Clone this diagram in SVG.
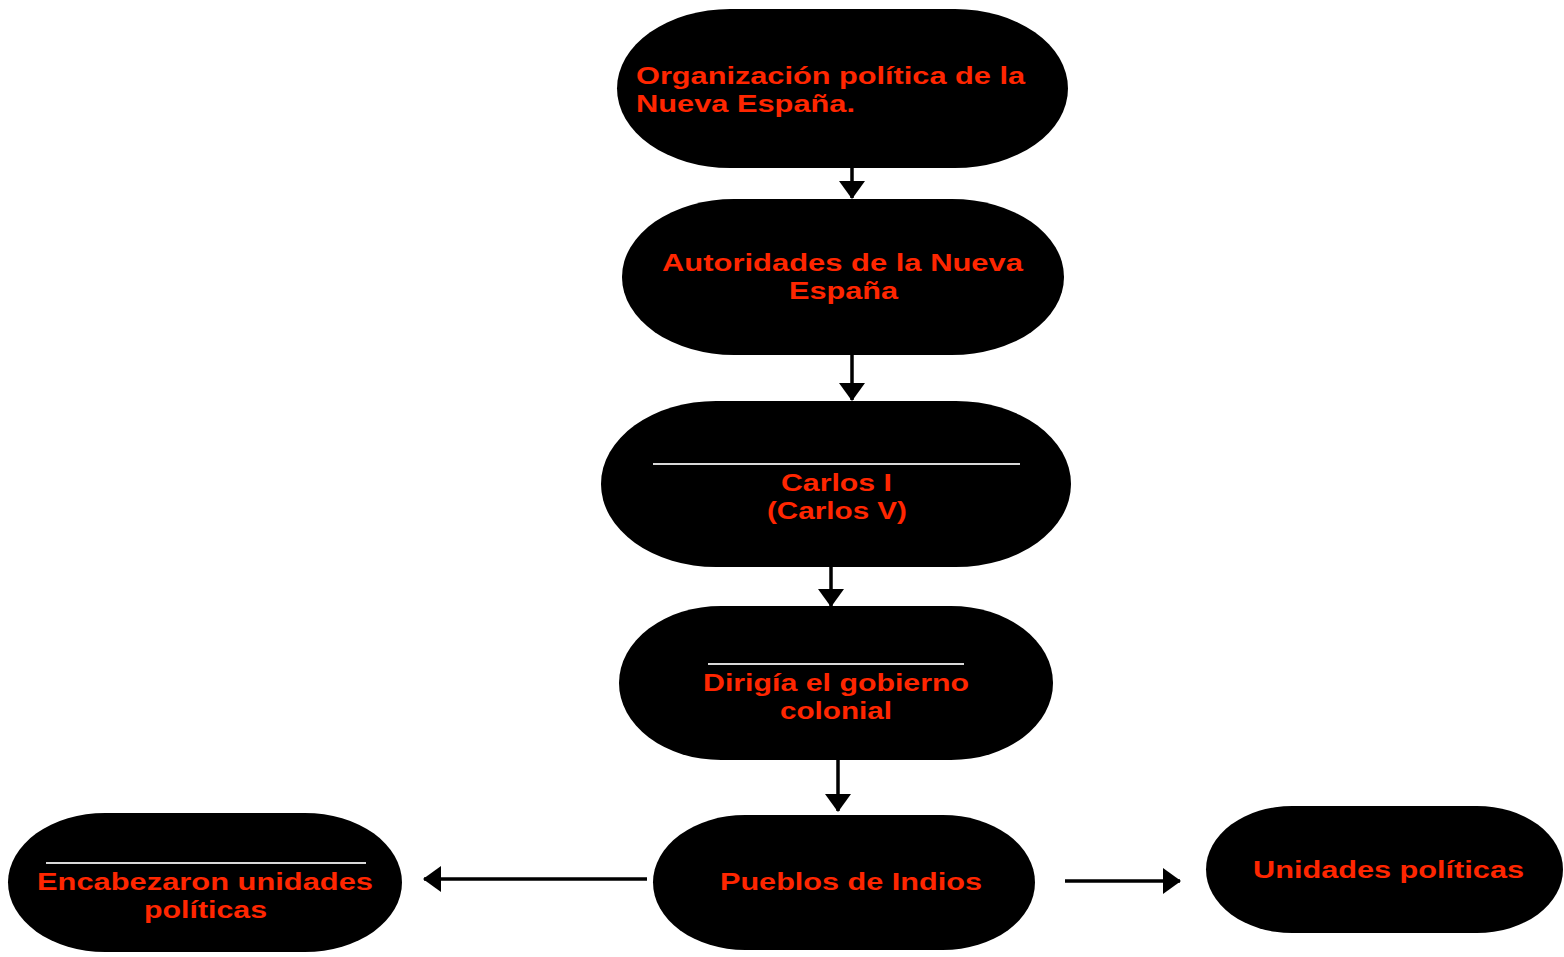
<svg xmlns="http://www.w3.org/2000/svg" width="1564" height="957" viewBox="0 0 1564 957">
<defs>
<style>
.n{fill:#000}
.t{fill:#ff2600;font-family:"Liberation Sans",Arial,sans-serif;font-weight:bold;font-size:23px}
.c{text-anchor:middle}
.w{stroke:#d8d8d8;stroke-width:2}
.e{stroke:#000;stroke-width:3.5;fill:none}
</style>
<marker id="ah" markerUnits="userSpaceOnUse" markerWidth="18" markerHeight="26" refX="17" refY="13" orient="auto">
<path d="M0,0 L18,13 L0,26 Z" fill="#000"/>
</marker>
</defs>
<rect width="1564" height="957" fill="#fff"/>
<g id="connectors">
<line class="e" x1="852" y1="168" x2="852" y2="198" marker-end="url(#ah)"/>
<line class="e" x1="852" y1="355" x2="852" y2="400" marker-end="url(#ah)"/>
<line class="e" x1="831" y1="567" x2="831" y2="606" marker-end="url(#ah)"/>
<line class="e" x1="838" y1="760" x2="838" y2="811" marker-end="url(#ah)"/>
<line class="e" x1="647" y1="879" x2="424" y2="879" marker-end="url(#ah)"/>
<line class="e" x1="1065" y1="881" x2="1180" y2="881" marker-end="url(#ah)"/>
</g>
<g id="n1">
<rect class="n" x="617" y="9" width="451" height="159" rx="113" ry="79.5"/>
<text class="t" x="636" y="84" textLength="389" lengthAdjust="spacingAndGlyphs">Organización política de la</text>
<text class="t" x="636" y="112" textLength="219" lengthAdjust="spacingAndGlyphs">Nueva España.</text>
</g>
<g id="n2">
<rect class="n" x="622" y="199" width="442" height="156" rx="112" ry="78"/>
<text class="t c" x="842.5" y="271" textLength="361" lengthAdjust="spacingAndGlyphs">Autoridades de la Nueva</text>
<text class="t c" x="843.5" y="299" textLength="109" lengthAdjust="spacingAndGlyphs">España</text>
</g>
<g id="n3">
<rect class="n" x="601" y="401" width="470" height="166" rx="115" ry="83"/>
<line class="w" x1="653" y1="464" x2="1020" y2="464"/>
<text class="t c" x="836.5" y="491" textLength="111" lengthAdjust="spacingAndGlyphs">Carlos I</text>
<text class="t c" x="837" y="519" textLength="140" lengthAdjust="spacingAndGlyphs">(Carlos V)</text>
</g>
<g id="n4">
<rect class="n" x="619" y="606" width="434" height="154" rx="102" ry="77"/>
<line class="w" x1="708" y1="664" x2="964" y2="664"/>
<text class="t c" x="836" y="691" textLength="266" lengthAdjust="spacingAndGlyphs">Dirigía el gobierno</text>
<text class="t c" x="836" y="719" textLength="112" lengthAdjust="spacingAndGlyphs">colonial</text>
</g>
<g id="n5">
<rect class="n" x="653" y="815" width="382" height="135" rx="92" ry="67.5"/>
<text class="t c" x="851" y="890" textLength="262" lengthAdjust="spacingAndGlyphs">Pueblos de Indios</text>
</g>
<g id="n6">
<rect class="n" x="8" y="813" width="394" height="139" rx="97" ry="69.5"/>
<line class="w" x1="46" y1="863" x2="366" y2="863"/>
<text class="t c" x="205" y="890" textLength="336" lengthAdjust="spacingAndGlyphs">Encabezaron unidades</text>
<text class="t c" x="205.5" y="918" textLength="123" lengthAdjust="spacingAndGlyphs">políticas</text>
</g>
<g id="n7">
<rect class="n" x="1206" y="806" width="357" height="127" rx="86" ry="63.5"/>
<text class="t c" x="1388.5" y="878" textLength="271" lengthAdjust="spacingAndGlyphs">Unidades políticas</text>
</g>
</svg>
